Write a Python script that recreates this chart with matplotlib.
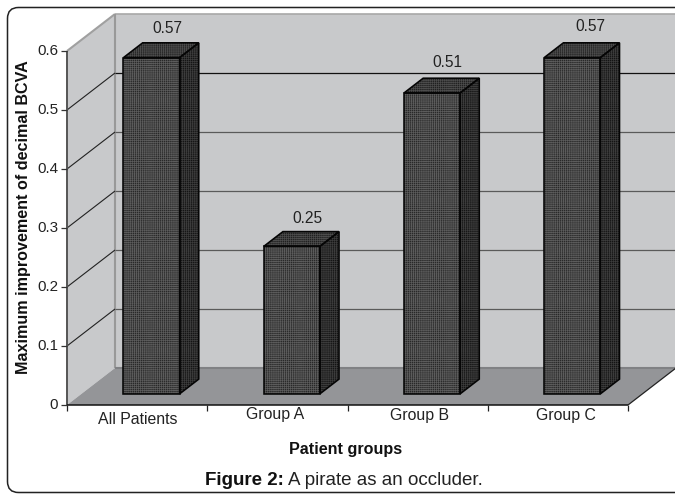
import matplotlib
matplotlib.use("Agg")
import matplotlib.pyplot as plt
from matplotlib.patches import Polygon, FancyBboxPatch

categories = ["All Patients", "Group A", "Group B", "Group C"]
values = [0.57, 0.25, 0.51, 0.57]
value_labels = ["0.57", "0.25", "0.51", "0.57"]
y_ticks = [0, 0.1, 0.2, 0.3, 0.4, 0.5, 0.6]
y_tick_labels = ["0", "0.1", "0.2", "0.3", "0.4", "0.5", "0.6"]
label_shift = [(1, -14), (-2.5, -9), (1.5, -10), (8, -10)]
value_shift = [(6, 14), (6, 13), (6, 16), (8, 16)]

W, H = 675, 494
plt.rcParams["font.family"] = ["Liberation Sans", "DejaVu Sans"]
fig = plt.figure(figsize=(W / 100, H / 100), dpi=100)
L, R, T, B = 67, 628, 51, 405
ax = fig.add_axes([L / W, 1 - B / H, (R - L) / W, (B - T) / H])
ax.set_xlim(0, 4)
ax.set_ylim(0, 0.6)
ax.axis("off")

PX = (R - L) / 4
PY = (B - T) / 0.6
DX, DY = 48, 37

def P(x, y, d=0.0):
    return (x + d * DX / PX, y + d * DY / PY)

def poly(pts, **kw):
    kw.setdefault("clip_on", False)
    p = Polygon(pts, closed=True, **kw)
    ax.add_patch(p)
    return p

def line(a, b, **kw):
    ax.plot([a[0], b[0]], [a[1], b[1]], clip_on=False, solid_capstyle="butt", **kw)

# outer rounded frame
fr = FancyBboxPatch((7.5, H - 492.5), 720, 485, boxstyle="round,pad=0,rounding_size=11",
                    transform=None, fc="none", ec="#222222", lw=1.1, zorder=0)
fig.add_artist(fr)

wall = "#c8c9cb"
floor = "#949598"
poly([P(0, 0), P(0, .6), P(0, .6, 1), P(0, 0, 1)], fc=wall, ec="none", zorder=1)
poly([P(0, 0, 1), P(0, .6, 1), P(4, .6, 1), P(4, 0, 1)], fc=wall, ec="none", zorder=1)
poly([P(0, 0), P(0, 0, 1), P(4, 0, 1), P(4, 0)], fc=floor, ec="none", zorder=1)

line(P(0, .6), P(0, .6, 1), color="#a0a0a0", lw=1.5, zorder=2)
line(P(0, .6, 1), P(4, .6, 1), color="#a8a8a8", lw=1.2, zorder=2)
line(P(0, 0, 1), P(0, .6, 1), color="#999999", lw=1.5, zorder=2)
line(P(0, 0, 1), P(4, 0, 1), color="#808184", lw=1.5, zorder=2)

for v in y_ticks[1:-1]:
    line(P(0, v), P(0, v, 1), color="#222222", lw=0.8, zorder=2)
    line(P(0, v, 1), P(4, v, 1), color="#111111" if v >= 0.5 else "#5a5a5a", lw=0.9, zorder=2)

# axes lines
line(P(0, 0), P(0, .6), color="#555555", lw=1.4, zorder=2)
line(P(0, 0), P(4, 0), color="#111111", lw=1.1, zorder=2)
line(P(4, 0), P(4, 0, 1), color="#222222", lw=0.9, zorder=2)

plt.rcParams["hatch.linewidth"] = 0.5
def face(pts, fc, hc, hatch):
    poly(pts, fc=fc, ec=hc, lw=0, hatch=hatch, zorder=3)
    poly(pts, fc="none", ec="#050505", lw=1.15, joinstyle="miter", zorder=4)

for i, v in enumerate(values):
    x0, x1 = i + 0.3, i + 0.7
    d0, d1 = 0.3, 0.7
    face([P(x0, 0, d0), P(x1, 0, d0), P(x1, v, d0), P(x0, v, d0)], "#282828", "#5c5c5c", "++++++++")
    face([P(x1, 0, d0), P(x1, 0, d1), P(x1, v, d1), P(x1, v, d0)], "#141414", "#3c3c3c", "++++++++")
    face([P(x0, v, d0), P(x1, v, d0), P(x1, v, d1), P(x0, v, d1)], "#202020", "#4c4c4c", "++++++++")
    tx, ty = P(i + 0.5, v, 0.5)
    ax.annotate(value_labels[i], (tx, ty), xytext=value_shift[i], textcoords="offset pixels",
                ha="center", va="bottom", fontsize=11.2, color="#222222", annotation_clip=False)

for v, s in zip(y_ticks, y_tick_labels):
    line((0, v), (-6 / PX, v), color="#333333", lw=0.9, zorder=2)
    ax.annotate(s, (0, v), xytext=(-9, 0), textcoords="offset pixels", ha="right", va="center",
                fontsize=10.9, color="#222222", annotation_clip=False)

for i in range(5):
    line((i, 0), (i, -6 / PY), color="#222222", lw=0.9, zorder=2)
for i, (c, sh) in enumerate(zip(categories, label_shift)):
    ax.annotate(c, (i + 0.5, 0), xytext=sh, textcoords="offset pixels", ha="center", va="center",
                fontsize=11.4, color="#222222", annotation_clip=False)

fig.text(24 / W, 1 - 217 / H, "Maximum improvement of decimal BCVA", rotation=90, ha="center", va="center",
         fontsize=11.6, fontweight="bold", color="#111111")
fig.text(346 / W, 1 - 449 / H, "Patient groups", ha="center", va="center",
         fontsize=11.6, fontweight="bold", color="#111111")

t1 = fig.text(205 / W, 1 - 480 / H, "Figure 2:", ha="left", va="center", fontsize=13.5,
              fontweight="bold", color="#111111")
fig.canvas.draw()
bb = t1.get_window_extent()
fig.text((bb.x1 + 4) / W, 1 - 480 / H, "A pirate as an occluder.", ha="left", va="center", fontsize=13.5,
         color="#222222")

fig.savefig("out.png", dpi=100, facecolor="white")
